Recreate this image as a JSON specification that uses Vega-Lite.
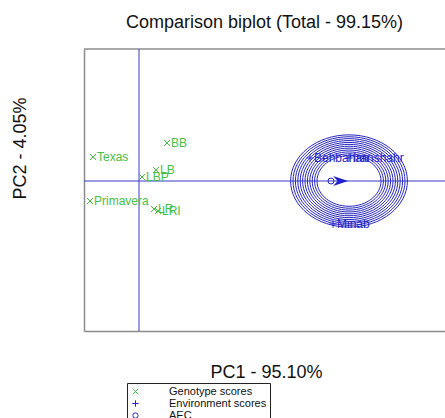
{
  "$schema": "https://vega.github.io/schema/vega-lite/v6.json",
  "width": 361,
  "height": 282,
  "autosize": {"type": "none"},
  "padding": {"left": 84, "top": 49, "right": 0, "bottom": 87},
  "background": "white",
  "config": {
    "view": {"stroke": null},
    "font": "Liberation Sans",
    "axisX": {"domain": true, "domainColor": "#8c8c8c", "domainWidth": 1.5, "ticks": false, "labels": false, "grid": false, "titleFontSize": 18, "titleFontWeight": "normal", "titleColor": "#111", "titleX": 182, "titleY": 41, "titleBaseline": "middle", "titleAlign": "center"},
    "axisY": {"domain": true, "domainColor": "#8c8c8c", "domainWidth": 1.5, "ticks": false, "labels": false, "grid": false, "titleFontSize": 18, "titleFontWeight": "normal", "titleColor": "#111", "titleX": -64, "titleY": 99, "titleAngle": 270, "titleBaseline": "middle", "titleAlign": "center"}
  },
  "title": {"text": "Comparison biplot (Total - 99.15%)", "fontSize": 18, "fontWeight": "normal", "font": "Liberation Sans", "color": "#111", "anchor": "middle", "baseline": "bottom", "offset": -2},
  "datasets": {
    "scores": [
      {"label": "Texas", "pc1": -2.3, "pc2": 1.2, "type": "Genotype scores"},
      {"label": "BB", "pc1": 1.4, "pc2": 1.9, "type": "Genotype scores"},
      {"label": "LB", "pc1": 0.85, "pc2": 0.55, "type": "Genotype scores"},
      {"label": "LBP", "pc1": 0.15, "pc2": 0.2, "type": "Genotype scores"},
      {"label": "Primavera", "pc1": -2.45, "pc2": -1.0, "type": "Genotype scores"},
      {"label": "LR", "pc1": 0.75, "pc2": -1.4, "type": "Genotype scores"},
      {"label": "LRI", "pc1": 0.95, "pc2": -1.5, "type": "Genotype scores"},
      {"label": "Behbahan", "pc1": 8.55, "pc2": 1.15, "type": "Environment scores"},
      {"label": "Iranshahr", "pc1": 10.5, "pc2": 1.15, "type": "Environment scores"},
      {"label": "Minab", "pc1": 9.7, "pc2": -2.15, "type": "Environment scores"},
      {"label": "", "pc1": 9.6, "pc2": 0, "type": "AEC"}
    ],
    "rings": [
      {"pc1": 10.5, "pc2": 0, "r": 1.6},
      {"pc1": 10.5, "pc2": 0, "r": 1.72},
      {"pc1": 10.5, "pc2": 0, "r": 1.84},
      {"pc1": 10.5, "pc2": 0, "r": 1.96},
      {"pc1": 10.5, "pc2": 0, "r": 2.08},
      {"pc1": 10.5, "pc2": 0, "r": 2.2},
      {"pc1": 10.5, "pc2": 0, "r": 2.32},
      {"pc1": 10.5, "pc2": 0, "r": 2.44},
      {"pc1": 10.5, "pc2": 0, "r": 2.56},
      {"pc1": 10.5, "pc2": 0, "r": 2.68},
      {"pc1": 10.5, "pc2": 0, "r": 2.8},
      {"pc1": 10.5, "pc2": 0, "r": 2.92}
    ],
    "arrow": [{"pc1": 10.08, "pc2": 0}],
    "origin": [{"pc1": 0, "pc2": 0}],
    "top": [{"pc2": 6.6}]
  },
  "resolve": {"scale": {"size": "independent"}},
  "layer": [
    {
      "data": {"name": "top"},
      "mark": {"type": "rule", "color": "#8c8c8c", "strokeWidth": 1.5},
      "encoding": {
        "y": {"field": "pc2", "type": "quantitative", "title": "PC2 - 4.05%", "scale": {"domain": [-7.5, 6.6], "nice": false, "zero": false}}
      }
    },
    {
      "data": {"name": "origin"},
      "mark": {"type": "rule", "color": "#3a3acc", "strokeWidth": 1},
      "encoding": {
        "y": {"field": "pc2", "type": "quantitative", "title": "PC2 - 4.05%", "scale": {"domain": [-7.5, 6.6], "nice": false, "zero": false}}
      }
    },
    {
      "data": {"name": "origin"},
      "mark": {"type": "rule", "color": "#3a3acc", "strokeWidth": 1},
      "encoding": {
        "x": {"field": "pc1", "type": "quantitative", "title": "PC1 - 95.10%", "scale": {"domain": [-2.75, 15.3], "nice": false, "zero": false}}
      }
    },
    {
      "data": {"name": "rings"},
      "mark": {"type": "point", "shape": "M-1,0A1,0.79,0,1,1,1,0A1,0.79,0,1,1,-1,0Z", "filled": false, "color": "#2828c0", "strokeWidth": 1, "opacity": 1},
      "encoding": {
        "x": {"field": "pc1", "type": "quantitative", "title": "PC1 - 95.10%", "scale": {"domain": [-2.75, 15.3], "nice": false, "zero": false}},
        "y": {"field": "pc2", "type": "quantitative", "title": "PC2 - 4.05%", "scale": {"domain": [-7.5, 6.6], "nice": false, "zero": false}},
        "size": {"field": "r", "type": "quantitative", "scale": {"type": "pow", "exponent": 2, "domain": [0, 3], "range": [0, 14400]}, "legend": null}
      }
    },
    {
      "data": {"name": "arrow"},
      "mark": {"type": "point", "shape": "M-1,-0.67L1,0L-1,0.67L-0.4,0Z", "filled": true, "color": "#2020d0", "size": 225, "opacity": 1},
      "encoding": {
        "x": {"field": "pc1", "type": "quantitative", "title": "PC1 - 95.10%", "scale": {"domain": [-2.75, 15.3], "nice": false, "zero": false}},
        "y": {"field": "pc2", "type": "quantitative", "title": "PC2 - 4.05%", "scale": {"domain": [-7.5, 6.6], "nice": false, "zero": false}}
      }
    },
    {
      "data": {"name": "scores"},
      "mark": {"type": "point", "filled": false, "strokeWidth": 1, "size": 36, "opacity": 1},
      "encoding": {
        "x": {"field": "pc1", "type": "quantitative", "title": "PC1 - 95.10%", "scale": {"domain": [-2.75, 15.3], "nice": false, "zero": false}},
        "y": {"field": "pc2", "type": "quantitative", "title": "PC2 - 4.05%", "scale": {"domain": [-7.5, 6.6], "nice": false, "zero": false}},
        "color": {"field": "type", "type": "nominal", "scale": {"domain": ["Genotype scores", "Environment scores", "AEC"], "range": ["#44c044", "#2424d0", "#2424d0"]},
          "legend": {"orient": "none", "legendX": 43, "legendY": 334, "title": null, "strokeColor": "#222", "padding": 3, "labelFontSize": 11, "labelFont": "Liberation Sans", "labelColor": "#111", "symbolSize": 28, "symbolStrokeWidth": 1, "labelOffset": 28, "rowPadding": 0}},
        "shape": {"field": "type", "type": "nominal", "scale": {"domain": ["Genotype scores", "Environment scores", "AEC"], "range": ["M-1,-1L1,1M-1,1L1,-1", "M-1.2,0L1.2,0M0,-1.2L0,1.2", "circle"]},
          "legend": {"orient": "none", "legendX": 43, "legendY": 334, "title": null, "strokeColor": "#222", "padding": 3, "labelFontSize": 11, "labelFont": "Liberation Sans", "labelColor": "#111", "symbolSize": 28, "symbolStrokeWidth": 1, "labelOffset": 28, "rowPadding": 0}}
      }
    },
    {
      "data": {"name": "scores"},
      "transform": [{"filter": "datum.type === 'Genotype scores'"}],
      "mark": {"type": "text", "align": "left", "baseline": "middle", "dx": 4, "fontSize": 12, "font": "Liberation Sans", "color": "#44c044"},
      "encoding": {
        "x": {"field": "pc1", "type": "quantitative", "title": "PC1 - 95.10%", "scale": {"domain": [-2.75, 15.3], "nice": false, "zero": false}},
        "y": {"field": "pc2", "type": "quantitative", "title": "PC2 - 4.05%", "scale": {"domain": [-7.5, 6.6], "nice": false, "zero": false}},
        "text": {"field": "label"}
      }
    },
    {
      "data": {"name": "scores"},
      "transform": [{"filter": "datum.type === 'Environment scores'"}],
      "mark": {"type": "text", "align": "left", "baseline": "middle", "dx": 4, "fontSize": 12, "font": "Liberation Sans", "color": "#2424d0"},
      "encoding": {
        "x": {"field": "pc1", "type": "quantitative", "title": "PC1 - 95.10%", "scale": {"domain": [-2.75, 15.3], "nice": false, "zero": false}},
        "y": {"field": "pc2", "type": "quantitative", "title": "PC2 - 4.05%", "scale": {"domain": [-7.5, 6.6], "nice": false, "zero": false}},
        "text": {"field": "label"}
      }
    }
  ]
}
